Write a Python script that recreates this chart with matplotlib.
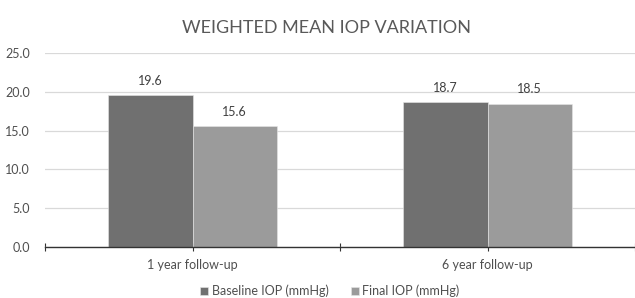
import matplotlib as _mpl
_mpl.use("Agg")
import numpy as np
import matplotlib.pyplot as plt

plt.rcParams['font.family'] = ['Lato', 'DejaVu Sans']

categories = ["1 year follow-up", "6 year follow-up"]
baseline = [19.6, 18.7]
final = [15.6, 18.5]
series_names = ["Baseline IOP (mmHg)", "Final IOP (mmHg)"]
y_ticks = [0.0, 5.0, 10.0, 15.0, 20.0, 25.0]

dark = "#707070"
light = "#9b9b9b"
text_col = "#595959"

fig = plt.figure(figsize=(6.35, 2.98), dpi=100)
ax = fig.add_axes([45 / 635, 51.3 / 298, 590 / 635, 193.4 / 298])

x = np.arange(len(categories))
w = 0.286
b1 = ax.bar(x - w / 2, baseline, w, color=dark, label=series_names[0],
            edgecolor="#e6e6e6", linewidth=0.4, zorder=3)
b2 = ax.bar(x + w / 2, final, w, color=light, label=series_names[1],
            edgecolor="#e6e6e6", linewidth=0.4, zorder=3)
for bars in (b1, b2):
    ax.bar_label(bars, fmt="%.1f", padding=6, fontsize=9, color="#404040")

ax.set_xlim(-0.5, 1.487)
ax.set_ylim(0, 25)
ax.set_yticks(y_ticks)
ax.set_yticklabels(["%.1f" % v for v in y_ticks])
ax.yaxis.grid(True, color="#d9d9d9", linewidth=0.9, zorder=0)
ax.set_axisbelow(True)

ax.set_xticks(x)
ax.set_xticklabels(categories)
ax.set_xticks([-0.5, 0.5, 1.5], minor=True)
ax.tick_params(axis="x", which="both", direction="inout", length=6,
               width=0.8, color="#333333", labelsize=9, labelcolor="#4f4f4f", pad=6)
ax.tick_params(axis="y", length=0, labelsize=9, labelcolor="#4f4f4f", pad=11)

for s in ("top", "right", "left"):
    ax.spines[s].set_visible(False)
ax.spines["bottom"].set_color("#333333")
ax.spines["bottom"].set_linewidth(1.0)
ax.spines["bottom"].set_zorder(4)

fig.text(327 / 635, 1 - 28 / 298, "WEIGHTED MEAN IOP VARIATION", ha="center",
         va="center", fontsize=13, color=text_col)

fig.legend(loc="center", bbox_to_anchor=(330 / 635, 7 / 298), ncol=2,
           frameon=False, handlelength=0.6, handleheight=0.6,
           handletextpad=0.3, columnspacing=1.8, fontsize=9,
           labelcolor="#4f4f4f")

fig.savefig("out.png", dpi=100)
